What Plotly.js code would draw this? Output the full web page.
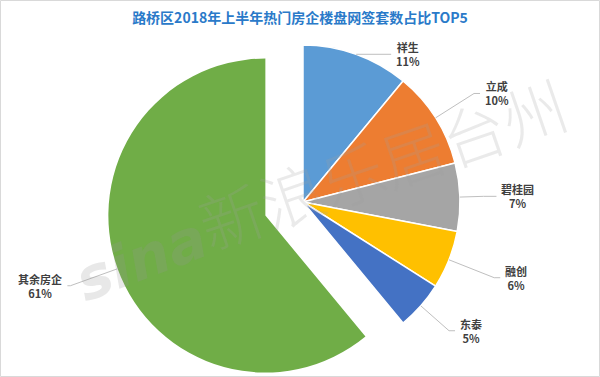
<!DOCTYPE html>
<html><head><meta charset="utf-8">
<script src="https://cdn.plot.ly/plotly-3.0.1.min.js"></script>
<style>html,body{margin:0;padding:0;background:#fff}#chart{width:600px;height:377px}</style>
</head><body><div id="chart"></div>
<script>
// ---- data ----
const labels = ['祥生','立成','碧桂园','融创','东泰','其余房企'];
const values = [11,10,7,6,5,61];
const pctText = ['11%','10%','7%','6%','5%','61%'];
const pulled = [false,false,false,false,false,true];
const titleText = '路桥区2018年上半年热门房企楼盘网签套数占比TOP5';

// ---- style / layout ----
const colors = ['#5B9BD5','#ED7D31','#A5A5A5','#FFC000','#4472C4','#70AD47'];
const W = 600, H = 377;
const C = {x:303, y:202}, R = 157, PULL = 40;
const elbowF = [1.0,1.29,1.15,1.31,1.24,1.32];
const horiz = [35,6,13,6,6,3];
const CJK = '"Noto Sans CJK SC", "Noto Sans", sans-serif';

const total = values.reduce((a,b)=>a+b,0);
let cum = 0;
const mids = values.map(v => { const m = (cum + v/2)/total*2*Math.PI; cum += v; return m; });
const pIdx = pulled.indexOf(true);
const C2 = {x: C.x + PULL*Math.sin(mids[pIdx]), y: C.y - PULL*Math.cos(mids[pIdx])};
function dom(c){ return {x:[(c.x-R)/W,(c.x+R)/W], y:[1-(c.y+R)/H, 1-(c.y-R)/H]}; }
const px = x => x/W, py = y => 1 - y/H;
const T = 'rgba(0,0,0,0)';

const trace1 = {
  type:'pie', values: values, labels: labels, sort:false, direction:'clockwise', rotation:0,
  domain: dom(C), textinfo:'none', hoverinfo:'skip', showlegend:false,
  marker:{colors: colors.map((c,i)=>pulled[i]?T:c), line:{color: pulled.map(p=>p?T:'#FFFFFF'), width:1.5}}
};
const trace2 = {
  type:'pie', values: values, labels: labels, sort:false, direction:'clockwise', rotation:0,
  domain: dom(C2), textinfo:'none', hoverinfo:'skip', showlegend:false,
  marker:{colors: colors.map((c,i)=>pulled[i]?c:T), line:{color:T, width:0}}
};

const shapes = [{type:'rect', xref:'paper', yref:'paper', x0:0.5/W, x1:1-0.5/W, y0:0.5/H, y1:1-0.5/H, line:{color:'#D9D9D9', width:1}}];
const annotations = [
  {text:'<b><i>sina</i></b>', xref:'paper', yref:'paper', x:px(64), y:py(318), showarrow:false, textangle:-21,
   font:{family:'"DejaVu Sans", sans-serif', size:58, color:'rgba(150,150,150,0.22)'}},
  {text:'新浪乐居台州', xref:'paper', yref:'paper', x:px(382), y:py(162), showarrow:false, textangle:-19,
   font:{family:CJK, size:64, color:'rgba(160,160,160,0.22)', weight:300}}
];
values.forEach((v,i)=>{
  const c = pulled[i] ? C2 : C;
  const s = Math.sin(mids[i]), co = Math.cos(mids[i]);
  const e = {x: c.x + R*s, y: c.y - R*co};
  const b = {x: c.x + R*elbowF[i]*s, y: c.y - R*elbowF[i]*co};
  const dir = s >= 0 ? 1 : -1;
  const f = {x: b.x + dir*horiz[i], y: b.y};
  shapes.push({type:'line', xref:'paper', yref:'paper', x0:px(e.x), y0:py(e.y), x1:px(b.x), y1:py(b.y), line:{color:'#BFBFBF', width:1}});
  shapes.push({type:'line', xref:'paper', yref:'paper', x0:px(b.x), y0:py(b.y), x1:px(f.x), y1:py(f.y), line:{color:'#BFBFBF', width:1}});
  annotations.push({text: labels[i] + '<br>' + pctText[i], xref:'paper', yref:'paper',
    x: px(f.x + dir*3), y: py(f.y), xanchor: dir>0?'left':'right', yanchor:'middle', align:'center', showarrow:false,
    font:{family:CJK, size:11, color:'#404040', weight:'bold'}});
});

const layout = {
  width:W, height:H, margin:{l:0,r:0,t:0,b:0}, paper_bgcolor:'#FFFFFF', plot_bgcolor:'#FFFFFF', showlegend:false,
  title:{text:titleText, x:0.5, xanchor:'center', y:1-18/H, yanchor:'middle',
    font:{family:CJK, size:14, color:'#2A7AC9', weight:'bold'}},
  shapes: shapes, annotations: annotations
};
Plotly.newPlot('chart', [trace1, trace2], layout, {displayModeBar:false, staticPlot:true});
</script></body></html>
